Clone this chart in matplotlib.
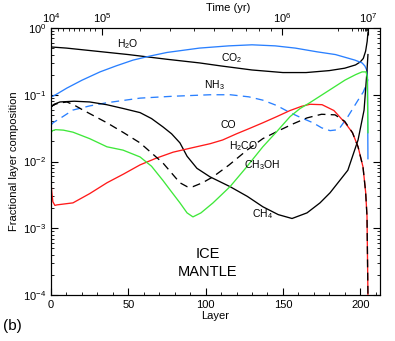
import matplotlib
matplotlib.use("Agg")
import matplotlib.pyplot as plt
import numpy as np

plt.rcParams['font.family'] = ['Liberation Sans', 'DejaVu Sans']
plt.rcParams['mathtext.fontset'] = 'custom'
plt.rcParams['mathtext.rm'] = 'Liberation Sans'
plt.rcParams['mathtext.it'] = 'Liberation Sans:italic'
plt.rcParams['mathtext.bf'] = 'Liberation Sans:bold'

# ---------------- data (layer, fractional composition) ----------------
h2o_layer = [0, 10, 25, 50, 75, 96, 110, 130, 150, 165, 180, 190, 197, 200, 202, 203.5, 204.5, 205]
h2o_val = [0.52, 0.50, 0.46, 0.40, 0.34, 0.30, 0.27, 0.235, 0.215, 0.215, 0.23, 0.25, 0.28, 0.31, 0.35, 0.45, 0.63, 0.85]

co2_layer = [0, 3, 10.3, 20, 31.7, 42, 53, 64, 75, 96, 115, 130, 145, 158, 172, 184, 196.6, 201.2, 203, 204.4, 204.7, 205.0]
co2_val = [0.092, 0.10, 0.126, 0.165, 0.22, 0.27, 0.33, 0.38, 0.43, 0.50, 0.54, 0.56, 0.54, 0.50, 0.44, 0.40, 0.33, 0.30, 0.27, 0.23, 0.18, 0.011]

nh3_layer = [0, 1.3, 7, 14.2, 25, 36.2, 57.6, 79, 103, 116, 128, 137, 146, 154.6, 162, 169.5, 175, 180.5, 186, 192, 198.6, 202, 204.4, 205]
nh3_val = [0.035, 0.038, 0.046, 0.059, 0.068, 0.076, 0.089, 0.095, 0.10, 0.10, 0.093, 0.083, 0.069, 0.054, 0.045, 0.038, 0.032, 0.029, 0.030, 0.047, 0.083, 0.11, 0.15, 0.17]

ch4_layer = [0, 2, 5.8, 15, 25, 36, 47, 57.6, 65, 72.4, 78, 83.4, 88, 94.4, 102.8, 115.8, 127, 137, 147, 155.9, 165.6, 174, 180.5, 192, 198.6, 202.5, 204.4, 205]
ch4_val = [0.065, 0.072, 0.078, 0.080, 0.078, 0.071, 0.062, 0.054, 0.044, 0.033, 0.026, 0.019, 0.012, 0.0079, 0.0059, 0.0042, 0.0030, 0.0021, 0.0016, 0.0014, 0.0017, 0.0024, 0.0034, 0.0074, 0.021, 0.059, 0.23, 0.40]

h2co_layer = [0, 1.3, 5, 10.3, 15, 20.7, 36.2, 47, 57.6, 72.4, 83.4, 88, 91.8, 98, 104.8, 115, 126.8, 137, 148, 157, 165.6, 175, 183.7, 190, 195, 198.6, 201.8, 203.5, 204.4, 205]
h2co_val = [0.065, 0.070, 0.075, 0.078, 0.070, 0.059, 0.038, 0.027, 0.019, 0.0095, 0.0048, 0.0042, 0.0042, 0.0048, 0.0059, 0.0088, 0.0148, 0.022, 0.0295, 0.037, 0.045, 0.051, 0.050, 0.040, 0.027, 0.0166, 0.0083, 0.0035, 0.0015, 0.0001]

co_layer = [0, 0.5, 1.2, 2.5, 3.9, 14.2, 25, 36.2, 47, 57.6, 68, 79, 91, 103, 111, 120, 128, 137, 146, 154.6, 162, 167.5, 175.3, 183, 190.2, 195, 198.6, 201.8, 203.5, 204.4, 205]
co_val = [0.0048, 0.0035, 0.0025, 0.0022, 0.00224, 0.0024, 0.0033, 0.0048, 0.0065, 0.0089, 0.0112, 0.0138, 0.016, 0.0185, 0.021, 0.026, 0.031, 0.038, 0.047, 0.058, 0.067, 0.072, 0.071, 0.058, 0.038, 0.027, 0.0166, 0.0083, 0.0035, 0.0015, 0.0001]

ch3oh_layer = [0, 1, 3, 8, 14.2, 25, 36.2, 46.6, 57.6, 65, 72.4, 78, 83.4, 88, 91.8, 97, 104.8, 115.8, 126, 137, 146, 154.6, 161, 167, 180, 190.2, 197, 201.2, 203.8, 204.6, 205]
ch3oh_val = [0.027, 0.029, 0.030, 0.0295, 0.0275, 0.022, 0.0166, 0.0148, 0.0117, 0.0085, 0.0052, 0.0035, 0.0024, 0.0017, 0.00148, 0.0017, 0.0024, 0.0042, 0.0080, 0.0166, 0.028, 0.047, 0.062, 0.075, 0.117, 0.166, 0.20, 0.22, 0.22, 0.18, 0.027]

# Top axis (time) tick positions in layer units
time_major_layers = [0, 33.0, 149.4, 205.0]
time_major_labels = [r'$10^{4}$', r'$10^{5}$', r'$10^{6}$', r'$10^{7}$']
time_minor_layers = [4.5, 7.8, 11.6, 14.9, 18.1, 21.3, 25.2, 28.5,
                     57.6, 77.0, 92.5, 105.4, 117.1, 126.1, 134.5, 142.3,
                     185.6, 194.7, 198.6, 200.5, 201.8, 203.1, 203.8, 204.4]

BLUE = '#2a80ff'
GREEN = '#3fe83a'
RED = '#ff1a1a'

fig = plt.figure(figsize=(3.95, 3.41), dpi=100)
ax = fig.add_axes([51/395, 1-295/341, (380-51)/395, (295-28)/341])

lw = 0.95
ax.plot(h2o_layer, h2o_val, color='black', lw=lw)
ax.plot(co2_layer, co2_val, color=BLUE, lw=lw)
ax.plot(nh3_layer, nh3_val, color=BLUE, lw=lw, dashes=(6, 4))
ax.plot(ch4_layer, ch4_val, color='black', lw=lw)
ax.plot(co_layer, co_val, color=RED, lw=lw)
ax.plot(h2co_layer, h2co_val, color='black', lw=lw, dashes=(6, 4))
ax.plot(ch3oh_layer, ch3oh_val, color=GREEN, lw=lw)

ax.set_yscale('log')
ax.set_xlim(0, 212.8)
ax.set_ylim(1e-4, 1)
ax.set_xticks([0, 50, 100, 150, 200])
ax.set_xticks(np.arange(0, 211, 10), minor=True)
ax.tick_params(which='both', direction='in', top=False, right=True, labelsize=8)
ax.tick_params(which='major', length=5, width=0.8)
ax.tick_params(which='minor', length=2.5, width=0.6)
ax.set_xlabel('Layer', fontsize=8, labelpad=1)
ax.set_ylabel('Fractional layer composition', fontsize=8, labelpad=3)

ax2 = ax.twiny()
ax2.set_xlim(ax.get_xlim())
ax2.set_xticks(time_major_layers)
ax2.set_xticklabels(time_major_labels)
ax2.set_xticks(time_minor_layers, minor=True)
ax2.tick_params(which='both', direction='in', labelsize=8, pad=2)
ax2.tick_params(which='major', length=5, width=0.8)
ax2.tick_params(which='minor', length=2.5, width=0.6)

fs = 7.5
ax.text(49.8, 10**-0.24, r'H$_2$O', fontsize=fs, ha='center', va='center')
ax.text(117, 10**-0.45, r'CO$_2$', fontsize=fs, ha='center', va='center')
ax.text(105.4, 10**-0.85, r'NH$_3$', fontsize=fs, ha='center', va='center')
ax.text(114.5, 10**-1.45, 'CO', fontsize=fs, ha='center', va='center')
ax.text(124.8, 10**-1.77, r'H$_2$CO', fontsize=fs, ha='center', va='center')
ax.text(136.5, 10**-2.05, r'CH$_3$OH', fontsize=fs, ha='center', va='center')
ax.text(136.5, 10**-2.79, r'CH$_4$', fontsize=fs, ha='center', va='center')
ax.text(101.5, 10**-3.39, 'ICE', fontsize=10.5, ha='center', va='center')
ax.text(101.5, 10**-3.66, 'MANTLE', fontsize=10.5, ha='center', va='center')

fig.text(228/395, 1-8/341, 'Time (yr)', fontsize=8, ha='center', va='center')
fig.text(3/395, 1-326/341, '(b)', fontsize=11, ha='left', va='center')

fig.savefig('out.png', dpi=100)
